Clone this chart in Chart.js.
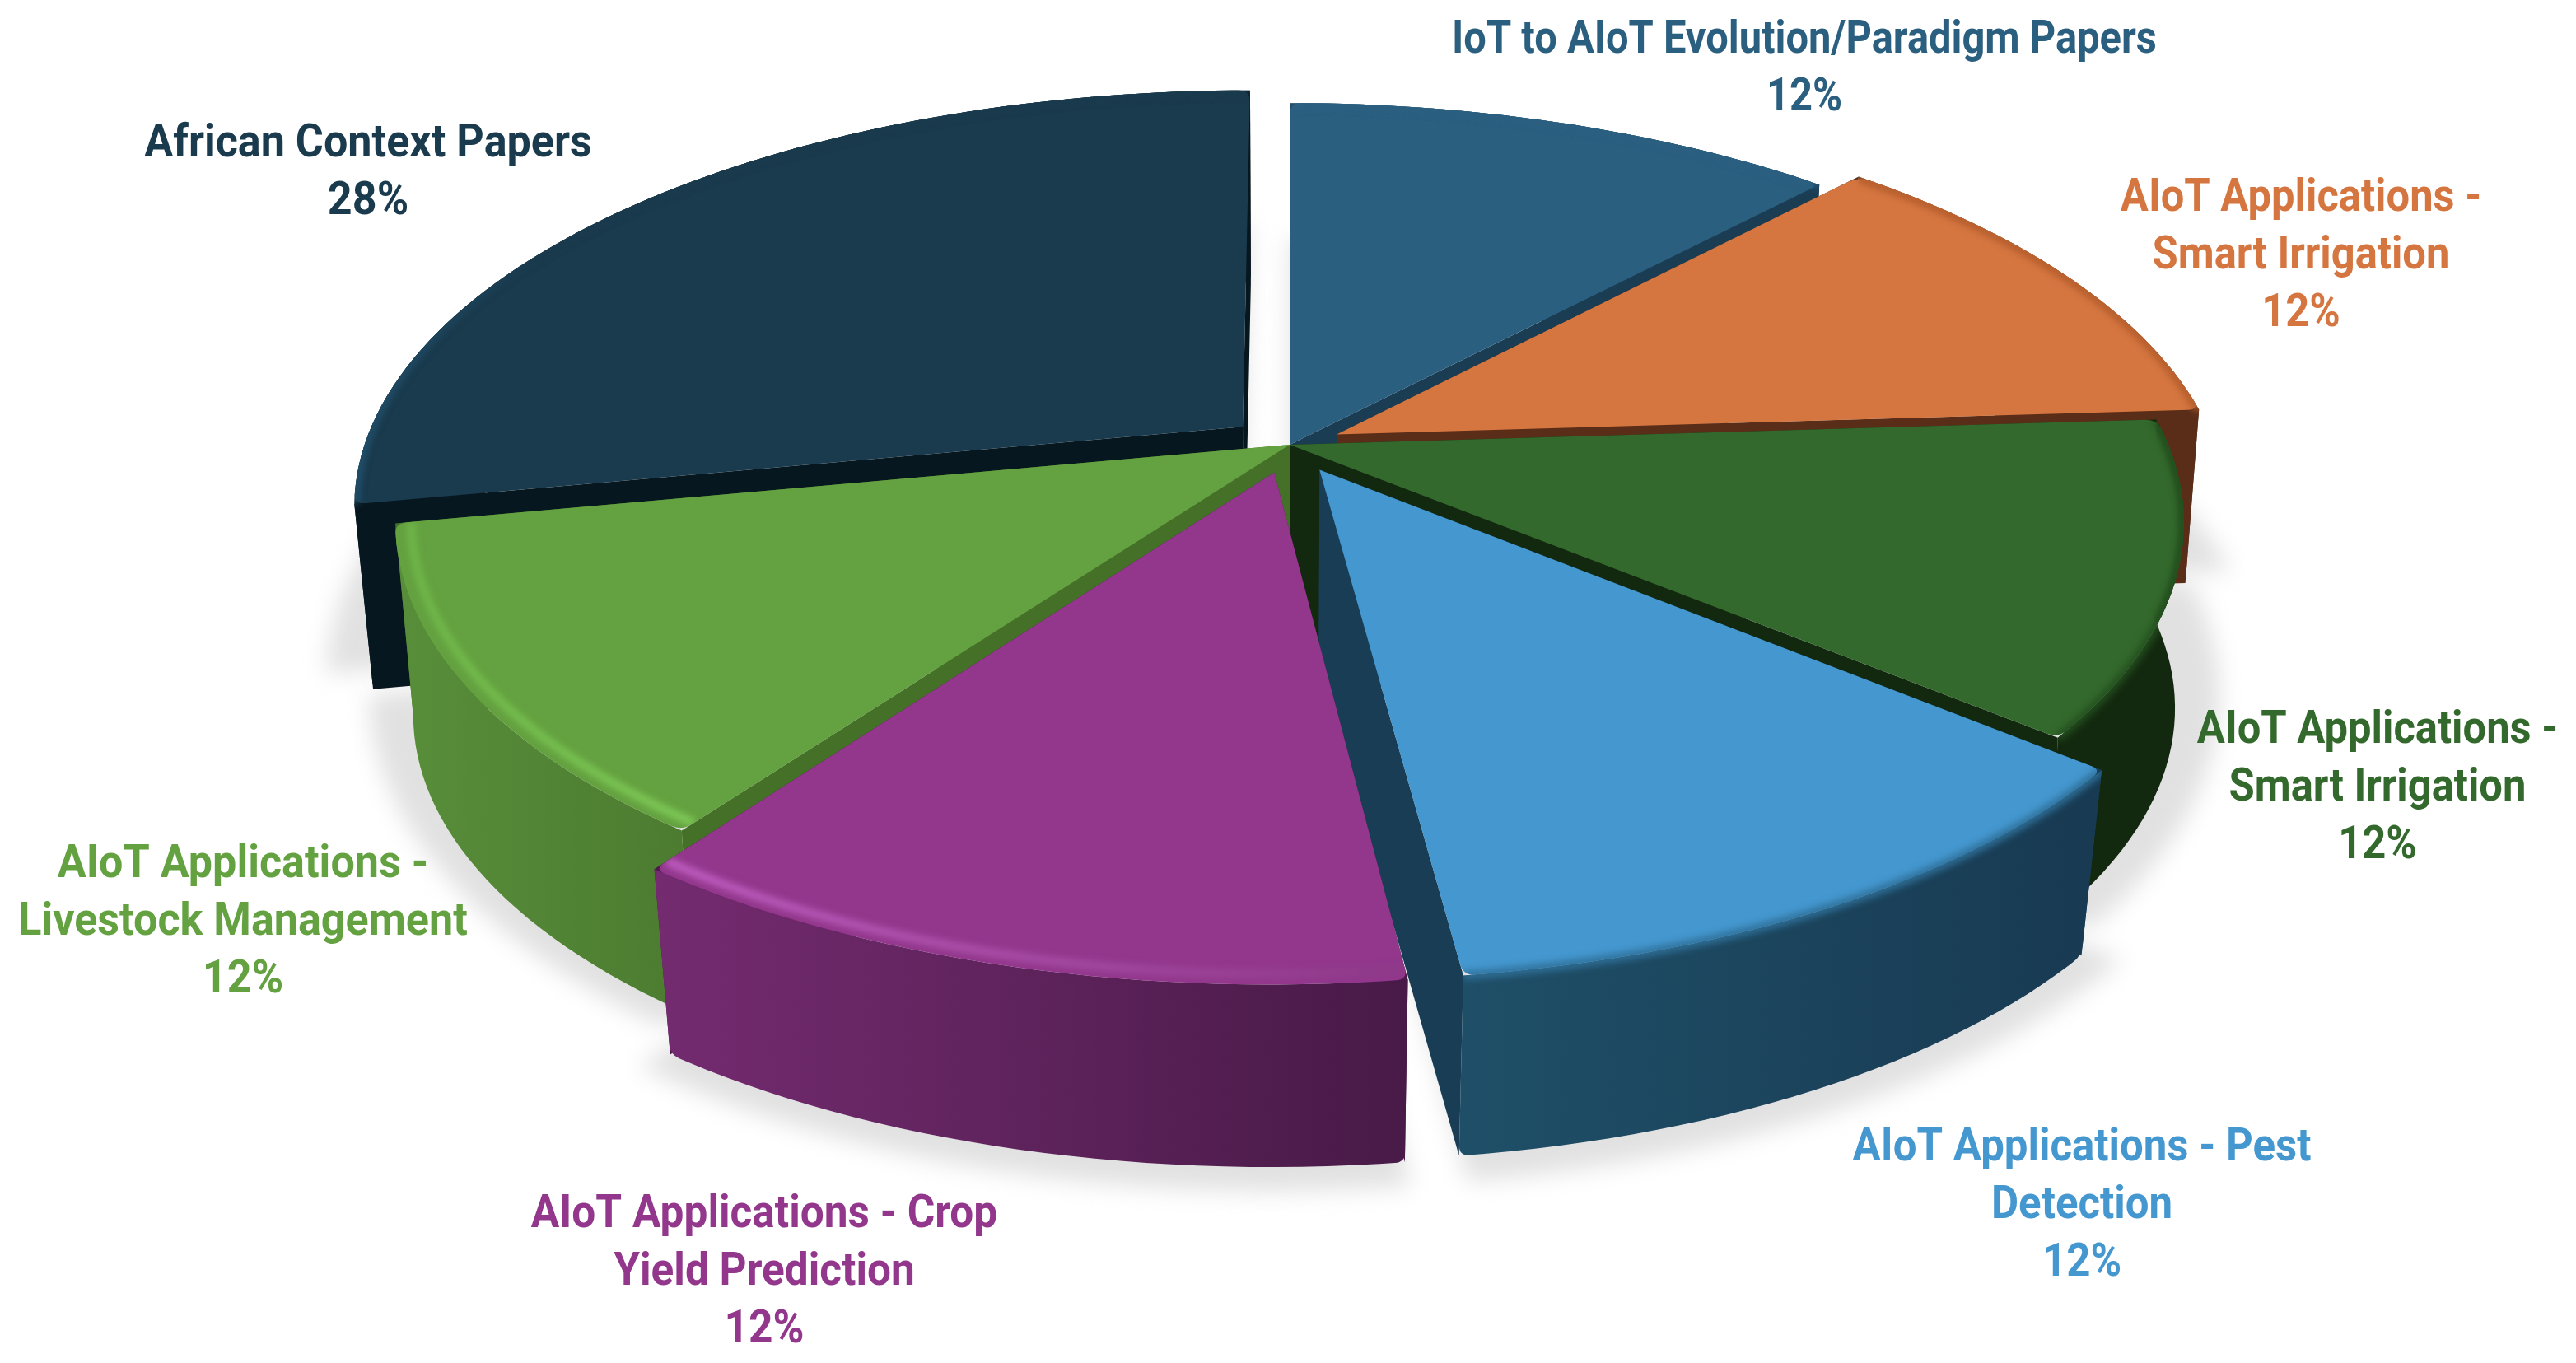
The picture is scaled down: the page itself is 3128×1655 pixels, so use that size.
<!DOCTYPE html>
<html><head><meta charset="utf-8">
<style>html,body{margin:0;padding:0;background:#fff}canvas{display:block}</style>
<script src="https://cdn.jsdelivr.net/npm/chart.js@4"></script>
</head><body>
<canvas id="c" width="3128" height="1655"></canvas>
<script>
const categories = [
  "IoT to AIoT Evolution/Paradigm Papers",
  "AIoT Applications - Smart Irrigation",
  "AIoT Applications - Smart Irrigation",
  "AIoT Applications - Pest Detection",
  "AIoT Applications - Crop Yield Prediction",
  "AIoT Applications - Livestock Management",
  "African Context Papers"
];
const shares = [12, 12, 12, 12, 12, 12, 28];

const topColors  = ["#2b5f80", "#d57640", "#33692c", "#4497cf", "#92378c", "#64a140", "#1a3a4d"];
const sideColors = ["#1a3d54", "#5a2d18", "#13290f", "#193d55", "#4a1a49", "#447028", "#07171f"];
const wallLeft   = ["#1a3d54", "#5a2d18", "#13290f", "#1f4f68", "#742b70", "#588e3a", "#07171f"];
const wallRight  = ["#1a3d54", "#5a2d18", "#13290f", "#183a52", "#481a47", "#4c7b30", "#07171f"];
const rimLeft    = ["#2b5f80", "#b8602f", "#234f1e", "#2f7099", "#c25fc4", "#6eb648", "#204d68"];
const rimRight   = ["#2b5f80", "#b8602f", "#234f1e", "#2f7099", "#8d3a88", "#80cc58", "#1a3a4d"];
const rimInset   = [1, 1, 1, 1, 0.983, 0.983, 1];
const rimFade    = [1, 1, 1, 1, 1, 1, 0.2];
const labelColors= ["#2b5f80", "#d57640", "#33692c", "#4497cf", "#92378c", "#64a140", "#1a3a4d"];
const explode    = [0, 92, 0, 108, 108, 0, 108];
const wallScale  = [0.98, 0.985, 0.99, 0.975, 0.975, 0.98, 0.98];
const wallDrop   = [235, 210, 226, 235, 238, 235, 226];
const paintOrder = [6, 0, 1, 2, 5, 3, 4];

const labelLines = [
  ["IoT to AIoT Evolution/Paradigm Papers"],
  ["AIoT Applications -", "Smart Irrigation"],
  ["AIoT Applications -", "Smart Irrigation"],
  ["AIoT Applications - Pest", "Detection"],
  ["AIoT Applications - Crop", "Yield Prediction"],
  ["AIoT Applications -", "Livestock Management"],
  ["African Context Papers"]
];
const labelAnchors = [[2191,50],[2794,242],[2887,888],[2528,1395],[928,1476],[295,1051],[447,176]];
const labelScale = [0.872, 0.905, 0.905, 0.91, 0.917, 0.93, 0.93];

const VIEW = {cx:1566, cy:540, s:1067, as:492, k:0.186};
const LABEL = {font:'bold 56px Roboto, sans-serif', line:70};

function project(ux, uy, low, i){
  const d = 1 - VIEW.k*uy;
  let X = VIEW.s*ux/d, Y = VIEW.as*uy/d;
  if(low){ X*=wallScale[i]; Y=Y*wallScale[i]+wallDrop[i]; }
  return [VIEW.cx+X, VIEW.cy+Y];
}
function tracePoly(ctx, pts, corners, r){
  const n = pts.length;
  ctx.beginPath();
  for(let i=0;i<n;i++){
    const p = pts[i];
    if(corners && corners.includes(i)){
      const a = pts[(i-1+n)%n], b = pts[(i+1)%n];
      const da = Math.hypot(a[0]-p[0],a[1]-p[1]), db = Math.hypot(b[0]-p[0],b[1]-p[1]);
      const ra = Math.min(r,da*0.9)/da, rb = Math.min(r,db*0.9)/db;
      ctx.lineTo(p[0]+(a[0]-p[0])*ra, p[1]+(a[1]-p[1])*ra);
      ctx.quadraticCurveTo(p[0],p[1],p[0]+(b[0]-p[0])*rb, p[1]+(b[1]-p[1])*rb);
    } else ctx.lineTo(p[0],p[1]);
  }
  ctx.closePath();
}
function sliceGeometry(arc, i){
  const a0 = arc.startAngle, a1 = arc.endAngle, mid = (a0+a1)/2;
  const off = (arc.options.offset||0)/2/arc.outerRadius;
  const ox = Math.cos(mid)*off, oy = Math.sin(mid)*off;
  const steps = Math.max(8, Math.round((a1-a0)/(1.4*Math.PI/180)));
  const unit = [];
  for(let j=0;j<=steps;j++){
    const a = a0+(a1-a0)*j/steps;
    unit.push([ox+Math.cos(a), oy+Math.sin(a)]);
  }
  return {
    topArc: unit.map(u=>project(u[0],u[1],false,i)),
    lowArc: unit.map(u=>project(u[0],u[1],true,i)),
    topTip: project(ox,oy,false,i), lowTip: project(ox,oy,true,i),
    unit, ox, oy
  };
}
const pie3d = {
  id:'pie3d',
  beforeDatasetsDraw(chart){
    const ctx = chart.ctx, arcs = chart.getDatasetMeta(0).data;
    const geos = arcs.map(sliceGeometry);
    ctx.save();
    ctx.filter = 'blur(14px)';
    ctx.fillStyle = '#e1e1e1';
    const sx=1.05, sy=1.105, scy=VIEW.cy+200;
    geos.forEach((g,i)=>{
      const pts=[g.lowTip,...g.lowArc].map(p=>[VIEW.cx+(p[0]-VIEW.cx)*sx, scy+(p[1]-VIEW.cy-wallDrop[i])*sy]);
      tracePoly(ctx,pts); ctx.fill();
    });
    ctx.restore();
    paintOrder.forEach(i=>{
      const g = geos[i], n=g.topArc.length;
      ctx.fillStyle = sideColors[i];
      [[g.topArc[0],g.lowArc[0]],[g.topArc[n-1],g.lowArc[n-1]]].forEach(([t,l])=>{
        tracePoly(ctx,[g.topTip,t,l,g.lowTip]); ctx.fill();
      });
      const wall = [...g.topArc, ...g.lowArc.slice().reverse()];
      const xs = wall.map(p=>p[0]);
      const xMin = Math.min(...xs), xMax = Math.max(...xs);
      const gr = ctx.createLinearGradient(xMin,0,xMax,0);
      gr.addColorStop(0,wallLeft[i]); gr.addColorStop(1,wallRight[i]);
      ctx.fillStyle = gr;
      tracePoly(ctx,wall,[n,2*n-1],12); ctx.fill();
      const top = [g.topTip,...g.topArc];
      ctx.fillStyle = topColors[i];
      tracePoly(ctx,top,[1,n],14); ctx.fill();
      const rg = ctx.createLinearGradient(xMin,0,xMax,0);
      rg.addColorStop(0,rimLeft[i]); rg.addColorStop(rimFade[i],rimRight[i]);
      const rr = rimInset[i];
      const arcIn = g.unit.map(u=>project(g.ox+(u[0]-g.ox)*rr,g.oy+(u[1]-g.oy)*rr,false,i));
      [()=>tracePoly(ctx,top,[1,n],14), ()=>tracePoly(ctx,wall)].forEach(clipPath=>{
        ctx.save();
        clipPath(); ctx.clip();
        ctx.filter='blur(4px)';
        ctx.strokeStyle=rg; ctx.lineWidth=10; ctx.lineCap='butt';
        ctx.beginPath();
        arcIn.forEach((p,j)=>j?ctx.lineTo(p[0],p[1]):ctx.moveTo(p[0],p[1]));
        ctx.stroke();
        ctx.restore();
      });
    });
    return false;
  },
  afterDraw(chart){
    const ctx = chart.ctx;
    const total = shares.reduce((a,b)=>a+b,0);
    ctx.save();
    ctx.font = LABEL.font;
    ctx.textAlign='center'; ctx.textBaseline='middle';
    categories.forEach((c,i)=>{
      ctx.fillStyle = labelColors[i];
      const lines = labelLines[i].concat([Math.round(shares[i]/total*100)+'%']);
      const [x,y] = labelAnchors[i];
      lines.forEach((t,j)=>{
        ctx.save();
        ctx.translate(x,y+j*LABEL.line);
        ctx.scale(labelScale[i],1);
        ctx.fillText(t,0,0);
        ctx.restore();
      });
    });
    ctx.restore();
  }
};
new Chart(document.getElementById('c'),{
  type:'pie',
  data:{labels:categories,datasets:[{data:shares,backgroundColor:topColors,offset:explode,hoverOffset:0,borderWidth:0}]},
  options:{responsive:false,animation:false,events:[],
    plugins:{legend:{display:false},tooltip:{enabled:false}}},
  plugins:[pie3d]
});
</script>
</body></html>
